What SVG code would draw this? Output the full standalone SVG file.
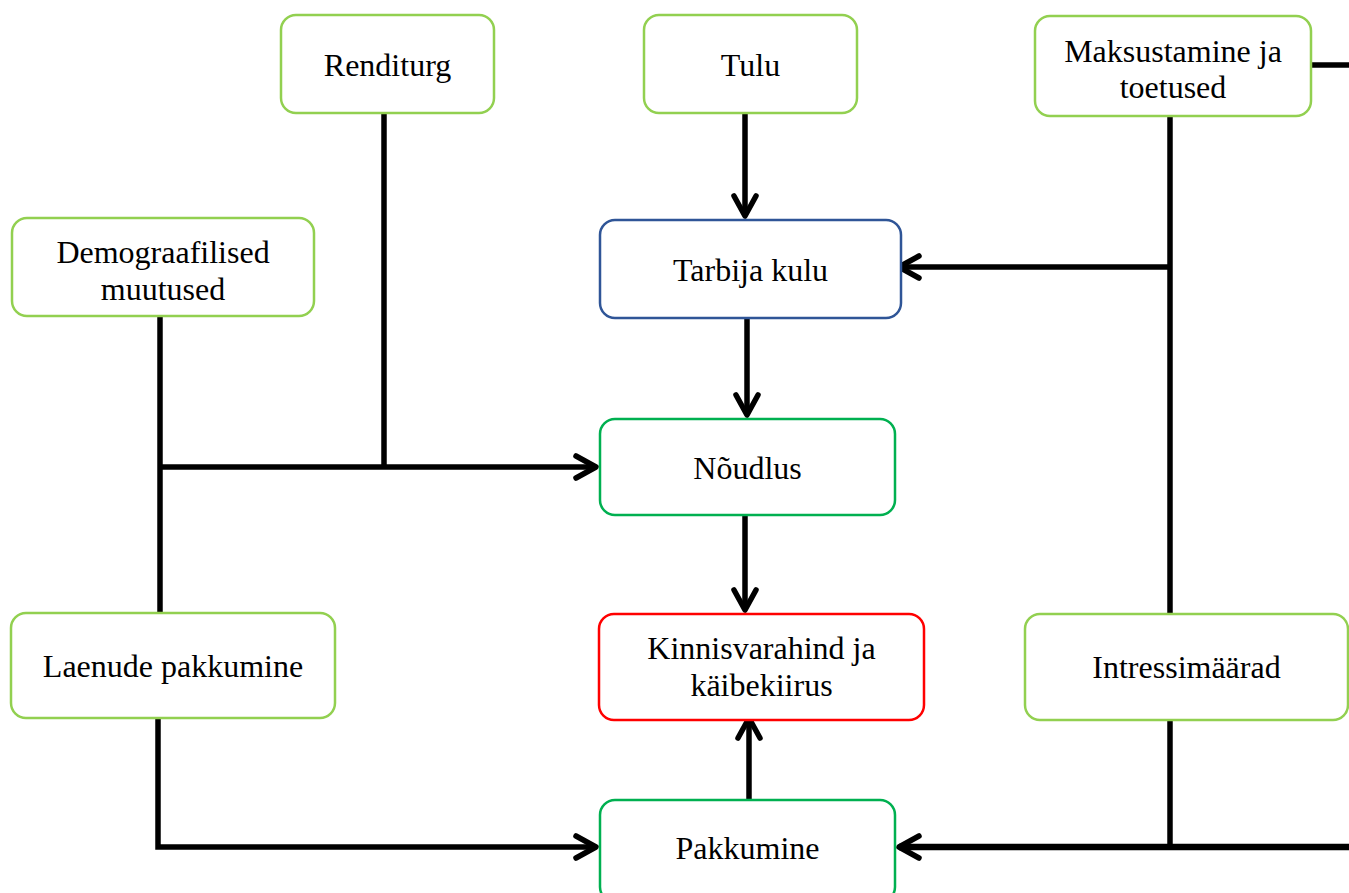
<svg xmlns="http://www.w3.org/2000/svg" width="1349" height="893" viewBox="0 0 1349 893">
<style>
.box{fill:#fff;stroke-width:2.5}
.lg{stroke:#92D050}
.dg{stroke:#00B050}
.bl{stroke:#2F5597}
.rd{stroke:#FF0000}
.t{font-family:"Liberation Serif","Times New Roman",serif;font-size:32px;fill:#000;text-anchor:middle}
.c{fill:none;stroke:#000;stroke-width:5.5}
</style>
<defs>
<marker id="ah" markerUnits="userSpaceOnUse" viewBox="-30 -20 40 40" refX="0" refY="0" markerWidth="40" markerHeight="40" orient="auto" overflow="visible">
<path d="M-20,-11 L0,0 L-20,11" fill="none" stroke="#000" stroke-width="5.5" stroke-linecap="round" stroke-linejoin="round"/>
</marker>
</defs>
<rect width="1349" height="893" fill="#fff"/>
<g id="connectors">
<path class="c" d="M745,108 V216" marker-end="url(#ah)"/>
<path class="c" d="M747,310 V415" marker-end="url(#ah)"/>
<path class="c" d="M745,510 V610" marker-end="url(#ah)"/>
<path class="c" d="M749,801 V718" marker-end="url(#ah)"/>
<path class="c" d="M1311,65 H1349"/>
<path class="c" d="M1170,113 V614"/>
<path class="c" d="M1170,267 H899" marker-end="url(#ah)"/>
<path class="c" d="M384,113 V467"/>
<path class="c" d="M160,316 V613"/>
<path class="c" d="M160,467 H596" marker-end="url(#ah)"/>
<path class="c" d="M158,710 V847 H596" marker-end="url(#ah)"/>
<path class="c" d="M1170,710 V847"/>
<path class="c" d="M1349,847 H899" marker-end="url(#ah)" style="stroke-width:6.5"/>
</g>
<g id="renditurg"><rect class="box lg" x="281" y="15" width="213" height="98" rx="15"/><text class="t" x="387.5" y="76">Renditurg</text></g>
<g id="tulu"><rect class="box lg" x="644" y="15" width="213" height="98" rx="15"/><text class="t" x="750.5" y="76">Tulu</text></g>
<g id="maksustamine"><rect class="box lg" x="1035" y="16" width="276" height="100" rx="15"/><text class="t" x="1173" y="62">Maksustamine ja</text><text class="t" x="1173" y="98">toetused</text></g>
<g id="demograafilised"><rect class="box lg" x="12" y="218" width="302" height="98" rx="15"/><text class="t" x="163" y="263">Demograafilised</text><text class="t" x="163" y="300">muutused</text></g>
<g id="tarbija"><rect class="box bl" x="600" y="220" width="301" height="98" rx="15"/><text class="t" x="750.5" y="281">Tarbija kulu</text></g>
<g id="noudlus"><rect class="box dg" x="600" y="419" width="295" height="96" rx="15"/><text class="t" x="747.5" y="479">Nõudlus</text></g>
<g id="kinnisvara"><rect class="box rd" x="599" y="614" width="325" height="106" rx="15"/><text class="t" x="761.5" y="659">Kinnisvarahind ja</text><text class="t" x="761.5" y="696">käibekiirus</text></g>
<g id="laenude"><rect class="box lg" x="11" y="613" width="324" height="105" rx="15"/><text class="t" x="173" y="677">Laenude pakkumine</text></g>
<g id="intressimaarad"><rect class="box lg" x="1025" y="614" width="323" height="106" rx="15"/><text class="t" x="1186.5" y="678">Intressimäärad</text></g>
<g id="pakkumine"><rect class="box dg" x="600" y="800" width="295" height="102" rx="15"/><text class="t" x="747.5" y="859">Pakkumine</text></g>
</svg>
